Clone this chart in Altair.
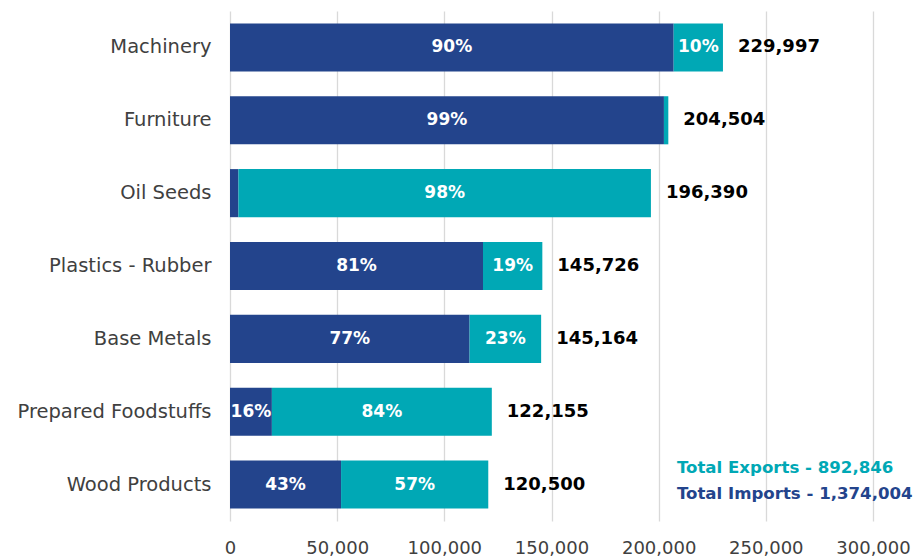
import altair as alt
import pandas as pd

categories = ["Machinery", "Furniture", "Oil Seeds", "Plastics - Rubber",
              "Base Metals", "Prepared Foodstuffs", "Wood Products"]
totals = [229997, 204504, 196390, 145726, 145164, 122155, 120500]
import_pct = [90, 99, 2, 81, 77, 16, 43]
export_pct = [10, 1, 98, 19, 23, 84, 57]
x_ticks = [0, 50000, 100000, 150000, 200000, 250000, 300000]
total_exports_label = "Total Exports - 892,846"
total_imports_label = "Total Imports - 1,374,004"

DARK = "#23448C"
TEAL = "#00A8B5"
FONT = "DejaVu Sans"

rows = []
for c, t, ip, ep in zip(categories, totals, import_pct, export_pct):
    imp = t * ip / 100.0
    rows.append({"cat": c, "flow": "Imports", "start": 0.0, "end": imp,
                 "mid": imp / 2, "pct": ip, "label": f"{ip}%" if ip >= 5 else ""})
    rows.append({"cat": c, "flow": "Exports", "start": imp, "end": float(t),
                 "mid": (imp + t) / 2, "pct": ep, "label": f"{ep}%" if ep >= 5 else ""})
df = pd.DataFrame(rows)
tot_df = pd.DataFrame({"cat": categories, "total": totals,
                       "label": [f"{v:,}" for v in totals]})

x_scale = alt.Scale(domain=[0, 300000], nice=False)
x_axis = alt.Axis(values=x_ticks, format=",.0f", labelFont=FONT, labelFontSize=18,
                  labelColor="#404040", labelPadding=18, ticks=False, domain=False,
                  labelFlush=False, grid=True, gridColor="#D9D9D9", gridWidth=1.3)
y_enc = alt.Y("cat:N", sort=categories, title=None,
              scale=alt.Scale(paddingInner=0.34, paddingOuter=0.17),
              axis=alt.Axis(labelFont=FONT, labelFontSize=19.5, labelColor="#404040",
                            labelPadding=19, labelLimit=400, ticks=False, domain=False,
                            grid=False))


def xq(field):
    return alt.X(field, scale=x_scale, title=None, axis=x_axis)


bars = alt.Chart(df).mark_bar().encode(
    y=y_enc,
    x=xq("start:Q"),
    x2="end:Q",
    color=alt.Color("flow:N", scale=alt.Scale(domain=["Imports", "Exports"], range=[DARK, TEAL]),
                    legend=None),
)

pct_text = alt.Chart(df).mark_text(font=FONT, fontSize=17, fontWeight="bold", color="white").encode(
    y=y_enc, x=xq("mid:Q"), text="label:N",
)

tot_text = alt.Chart(tot_df).mark_text(font=FONT, fontSize=18, fontWeight="bold", color="black",
                                       align="left", dx=15).encode(
    y=y_enc, x=xq("total:Q"), text="label:N",
)

ann_df = pd.DataFrame({"cat": ["Wood Products", "Wood Products"],
                       "x": [208500, 208500],
                       "text": [total_exports_label, total_imports_label],
                       "kind": ["Exports", "Imports"]})
ann_exp = alt.Chart(ann_df[ann_df.kind == "Exports"]).mark_text(
    font=FONT, fontSize=16.6, fontWeight="bold", color=TEAL, align="left", dy=-17).encode(
    y=y_enc, x=xq("x:Q"), text="text:N")
ann_imp = alt.Chart(ann_df[ann_df.kind == "Imports"]).mark_text(
    font=FONT, fontSize=16.6, fontWeight="bold", color=DARK, align="left", dy=9).encode(
    y=y_enc, x=xq("x:Q"), text="text:N")

chart = alt.layer(bars, pct_text, tot_text, ann_exp, ann_imp).properties(
    width=643, height=510,
    background="white",
    autosize=alt.AutoSizeParams(type="none"),
    padding={"left": 230, "top": 11, "right": 48, "bottom": 37},
).configure_view(stroke=None)

chart.save("out.html", embed_options={"renderer": "svg", "actions": False})
